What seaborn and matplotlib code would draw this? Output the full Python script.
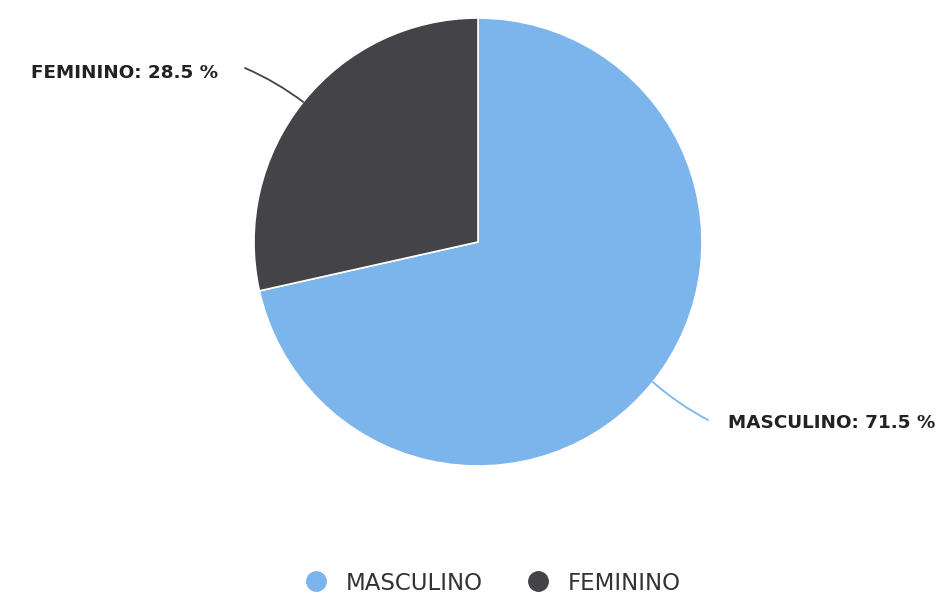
import numpy as np
import matplotlib
matplotlib.use('Agg')
import matplotlib.pyplot as plt
from matplotlib.lines import Line2D
import seaborn as sns

# data
labels = ['MASCULINO', 'FEMININO']
shares = [71.5, 28.5]
colors = ['#7cb5ec', '#434348']

sns.set_theme(style='white')
plt.rcParams['font.family'] = ['DejaVu Sans']

W, H = 942, 597
fig = plt.figure(figsize=(W / 100, H / 100), dpi=100)
ax = fig.add_axes([0, 0, 1, 1])

cx, cy, r = 478, H - 242, 224
wedges, _ = ax.pie(shares, colors=colors, startangle=90, counterclock=False,
                   center=(cx, cy), radius=r, frame=True,
                   wedgeprops=dict(edgecolor='white', linewidth=1.2))
ax.set_xlim(0, W)
ax.set_ylim(0, H)
ax.set_aspect('equal')
ax.axis('off')

# data labels with connectors
text_pos = {'MASCULINO': (728, H - 423, 'left'), 'FEMININO': (218, H - 73, 'right')}
line_end = {'MASCULINO': (708, H - 420), 'FEMININO': (245, H - 68)}
for w, lab, val, col in zip(wedges, labels, shares, colors):
    mid = np.deg2rad((w.theta1 + w.theta2) / 2)
    ex, ey = cx + r * np.cos(mid), cy + r * np.sin(mid)
    tx, ty, ha = text_pos[lab]
    ax.annotate('', xy=(ex, ey), xytext=line_end[lab],
                arrowprops=dict(arrowstyle='-', color=col, lw=1.3,
                                connectionstyle='arc3,rad=-0.06', shrinkA=0, shrinkB=0))
    ax.text(tx, ty, f'{lab}: {val} %', ha=ha, va='center', fontsize=13.2,
            fontweight='bold', color='#222222')

handles = [Line2D([0], [0], marker='o', linestyle='', markersize=14,
                  markerfacecolor=c, markeredgecolor=c) for c in colors]
fig.legend(handles, labels, loc='center', bbox_to_anchor=(487 / W, 1 - 583 / H),
           ncol=2, frameon=False, fontsize=16.5, handletextpad=0.3,
           columnspacing=1.4, labelcolor='#333333')

fig.savefig('out.png', dpi=100)
